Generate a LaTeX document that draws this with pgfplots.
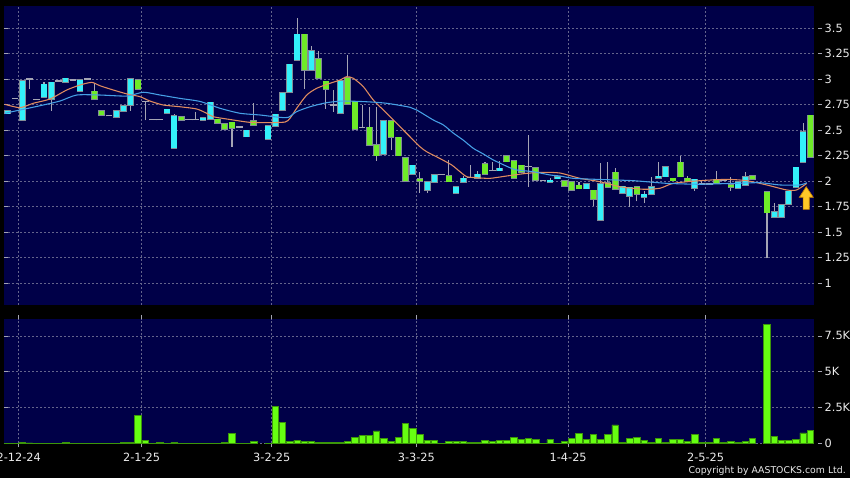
\documentclass[border=0pt]{standalone}
\usepackage{pgfplots}
\usepackage{pgfplotstable}
\pgfplotsset{compat=1.18}
\usepackage{fontspec}
\setmainfont{DejaVu Sans}

\definecolor{navy}{RGB}{0,0,72}
\definecolor{gridc}{RGB}{100,100,140}
\definecolor{upc}{RGB}{51,240,250}
\definecolor{dnc}{RGB}{110,235,40}
\definecolor{edgec}{RGB}{130,140,150}
\definecolor{wickc}{RGB}{165,165,180}
\definecolor{volc}{RGB}{102,255,17}
\definecolor{voledge}{RGB}{60,150,10}
\definecolor{maa}{RGB}{225,140,95}
\definecolor{mab}{RGB}{70,160,230}
\definecolor{arrowc}{RGB}{255,200,40}
\definecolor{arrowe}{RGB}{200,130,0}
\definecolor{labc}{RGB}{235,235,235}

% rising days (cyan): open = body bottom, close = body top
\pgfplotstableread{
x open high low close
-2 2.66 2.69 2.66 2.69
0 2.595 2.99 2.595 2.98
3 2.824 2.97 2.824 2.948
4 2.801 2.968 2.69 2.968
6 2.97 3.007 2.97 3.007
8 2.88 2.99 2.88 2.99
13 2.627 2.69 2.627 2.69
14 2.686 2.738 2.686 2.738
15 2.745 3.0 2.69 3.0
20 2.664 2.703 2.664 2.703
21 2.32 2.66 2.32 2.637
25 2.595 2.618 2.595 2.618
26 2.605 2.77 2.605 2.77
31 2.434 2.497 2.434 2.497
34 2.409 2.539 2.409 2.539
35 2.536 2.654 2.536 2.654
36 2.696 2.866 2.696 2.866
37 2.873 3.144 2.873 3.144
38 3.183 3.595 3.183 3.438
40 3.085 3.32 3.085 3.277
44 2.664 2.983 2.664 2.983
50 2.265 2.588 2.265 2.588
54 2.066 2.154 2.066 2.154
56 1.912 1.993 1.88 1.993
57 1.99 2.059 1.99 2.059
60 1.879 1.944 1.879 1.944
61 1.987 2.05 1.987 2.026
63 2.03 2.10 2.03 2.066
66 2.10 2.20 2.10 2.125
73 1.987 2.03 1.987 2.007
74 2.023 2.042 2.023 2.042
78 1.924 1.973 1.924 1.973
80 1.618 2.18 1.618 1.973
83 1.879 1.948 1.879 1.948
84 1.853 1.938 1.742 1.938
86 1.84 1.90 1.78 1.87
87 1.873 2.036 1.873 1.944
88 2.026 2.19 2.026 2.046
89 2.042 2.14 2.042 2.14
93 1.929 2.016 1.90 2.016
99 1.929 1.99 1.929 1.99
100 1.961 2.09 1.961 2.042
104 1.644 1.78 1.644 1.696
105 1.644 1.765 1.644 1.765
106 1.77 1.90 1.77 1.90
107 1.938 2.134 1.938 2.134
108 2.183 2.566 2.183 2.48
}\upcandles

% falling days (green): open = body top, close = body bottom
\pgfplotstableread{
x open high low close
10 2.88 2.96 2.80 2.80
11 2.69 2.69 2.644 2.644
16 2.99 2.99 2.90 2.90
22 2.63 2.63 2.595 2.595
27 2.605 2.605 2.566 2.566
28 2.559 2.559 2.507 2.507
29 2.575 2.575 2.336 2.517
32 2.588 2.762 2.546 2.546
39 3.438 3.438 2.90 3.085
41 3.20 3.27 3.007 3.007
42 2.977 2.977 2.71 2.90
45 3.013 3.24 2.752 2.752
46 2.78 2.78 2.51 2.51
48 2.527 2.73 2.353 2.353
49 2.356 2.73 2.20 2.248
51 2.588 2.588 2.30 2.428
52 2.428 2.428 2.248 2.248
53 2.228 2.24 2.0 2.0
55 2.02 2.09 1.88 2.00
59 2.052 2.206 1.993 1.993
64 2.167 2.19 2.069 2.069
67 2.245 2.245 2.19 2.19
68 2.2 2.2 2.026 2.026
69 2.154 2.154 2.085 2.085
71 2.13 2.13 2.007 2.007
75 2.0 2.0 1.948 1.948
76 1.993 1.993 1.912 1.912
77 1.957 1.99 1.924 1.924
79 1.909 1.909 1.75 1.82
81 1.983 2.19 1.938 1.938
82 2.085 2.13 1.919 1.919
85 1.941 1.941 1.80 1.87
90 2.026 2.026 2.003 2.003
91 2.183 2.245 2.042 2.042
92 2.026 2.05 1.993 1.993
96 2.016 2.10 1.977 1.977
98 1.964 2.04 1.90 1.938
101 2.052 2.052 2.016 2.016
103 1.895 1.895 1.242 1.689
109 2.644 2.644 2.232 2.232
}\downcandles

% unchanged days (grey dash)
\pgfplotstableread{
x open high low close
-1 2.81 2.81 2.81 2.81
1 3.0 3.0 2.9 3.0
2 2.80 2.80 2.80 2.80
5 2.98 2.98 2.98 2.98
7 2.99 2.99 2.99 2.99
9 3.0 3.0 3.0 3.0
12 2.64 2.64 2.64 2.64
17 2.78 2.78 2.595 2.78
18 2.60 2.60 2.60 2.60
19 2.60 2.60 2.60 2.60
23 2.60 2.60 2.60 2.60
24 2.60 2.68 2.60 2.60
30 2.53 2.53 2.53 2.53
43 2.745 2.89 2.68 2.745
47 2.527 2.75 2.527 2.527
58 2.06 2.06 2.06 2.06
62 2.032 2.157 2.032 2.032
65 2.10 2.19 2.10 2.10
70 2.14 2.45 1.944 2.14
72 2.003 2.003 2.003 2.003
94 1.97 2.0 1.97 1.97
95 1.97 1.97 1.97 1.97
97 2.003 2.003 2.003 2.003
}\flatcandles

\pgfplotstableread{
x ma
-2.43 2.752
-0.32 2.719
1.52 2.762
3.83 2.804
6.14 2.892
7.98 2.941
9.6 2.967
10.75 2.934
12.59 2.892
14.66 2.85
16.28 2.827
17.66 2.784
19.5 2.745
21.81 2.728
24.12 2.706
25.5 2.664
26.42 2.63
29.18 2.598
31.49 2.575
33.8 2.572
36.33 2.578
37.03 2.615
37.95 2.713
39.34 2.843
40.72 2.909
42.56 2.958
43.94 2.99
44.87 3.023
45.78 3.007
47.17 2.925
48.55 2.794
50.4 2.664
52.24 2.532
53.62 2.434
55.0 2.336
55.93 2.287
57.77 2.22
59.39 2.157
60.54 2.091
61.47 2.042
62.85 2.032
64.69 2.026
67.0 2.049
69.77 2.075
72.06 2.085
74.37 2.078
77.14 2.026
79.9 1.993
82.67 1.944
85.89 1.919
88.2 1.929
90.04 1.977
93.73 2.003
97.43 2.016
100.19 2.003
102.96 1.961
105.72 1.912
107.1 1.912
108.5 1.977
}\mashort

\pgfplotstableread{
x ma
-2.43 2.664
-0.32 2.696
2.45 2.738
5.21 2.784
7.52 2.843
10.75 2.843
14.44 2.833
16.74 2.87
19.05 2.843
21.81 2.81
24.58 2.78
27.34 2.713
30.11 2.664
32.88 2.647
35.64 2.624
36.79 2.624
37.95 2.68
39.79 2.728
42.1 2.768
44.4 2.784
47.63 2.777
50.4 2.762
53.62 2.723
54.55 2.696
56.85 2.598
58.23 2.55
59.61 2.47
61.0 2.40
62.38 2.32
63.76 2.265
65.15 2.206
67.45 2.13
68.38 2.108
70.68 2.091
72.99 2.059
74.37 2.049
76.21 2.026
79.9 2.015
84.51 2.003
89.13 1.977
93.73 1.968
98.34 1.977
102.03 1.983
104.8 1.961
107.57 1.961
108.5 1.983
}\malong

% volume in thousands
\pgfplotstableread{
x vol
-2 0.03
-1 0.02
0 0.05
1 0.04
2 0.02
3 0.03
4 0.03
5 0.02
6 0.09
7 0.02
8 0.03
9 0.02
10 0.03
11 0.02
12 0.02
13 0.03
14 0.09
15 0.09
16 1.96
17 0.19
18 0.02
19 0.05
20 0.02
21 0.07
22 0.03
23 0.02
24 0.03
25 0.02
26 0.03
27 0.02
28 0.05
29 0.70
30 0.02
31 0.03
32 0.16
34 0.02
35 2.58
36 1.47
37 0.16
38 0.23
39 0.12
40 0.16
41 0.05
42 0.05
43 0.09
44 0.09
45 0.16
46 0.44
47 0.54
48 0.56
49 0.88
50 0.35
51 0.12
52 0.42
53 1.40
54 1.05
55 0.63
56 0.19
57 0.19
58 0.02
59 0.16
60 0.12
61 0.12
62 0.05
63 0.07
64 0.19
65 0.14
66 0.19
67 0.21
68 0.40
69 0.28
70 0.33
71 0.26
72 0.02
73 0.26
74 0.02
75 0.12
76 0.33
77 0.70
78 0.26
79 0.61
80 0.28
81 0.63
82 1.30
83 0.09
84 0.33
85 0.40
86 0.23
87 0.09
88 0.37
89 0.07
90 0.26
91 0.28
92 0.12
93 0.61
94 0.09
95 0.07
96 0.37
97 0.05
98 0.14
99 0.09
100 0.12
101 0.33
103 8.29
104 0.51
105 0.23
106 0.21
107 0.28
108 0.74
109 0.93
}\volume

\pgfplotsset{
  chartbase/.style={
    scale only axis, width=607.5pt,
    xmin=-2.53, xmax=109.5,
    axis background/.style={fill=navy},
    axis line style={draw=none},
    xtick={-0.5,16.5,34.5,54.5,75.5,94.5},
    grid=major,
    grid style={dash pattern=on 1.5pt off 1.5pt, color=gridc, line width=0.5pt},
    tick align=outside, major tick length=3pt,
    tick style={color=wickc, line width=0.6pt},
    yticklabel pos=right,
    ytick style={xshift=3pt},
    ticklabel style={text=labc, font=\fontsize{8.5}{10}\selectfont},
    yticklabel style={anchor=west, xshift=1.5pt},
    /pgf/number format/assume math mode=true,
    clip=true,
  },
  candlebar/.style={draw=none, mark=none, forget plot,
    error bars/.cd, y dir=plus, y explicit, error mark=none,
    error bar style={line width=#1}},
}

\begin{document}
\begin{tikzpicture}
\path[use as bounding box] (0,0) rectangle (637.5pt,358.5pt);
\clip (0,0) rectangle (637.5pt,358.5pt);
\fill[black] (0,0) rectangle (637.5pt,358.5pt);

% price panel
\begin{axis}[chartbase,
  at={(3pt,129.75pt)}, anchor=south west, height=224.25pt,
  ymin=0.784, ymax=3.716,
  ytick={1,1.25,1.5,1.75,2,2.25,2.5,2.75,3,3.25,3.5},
  xticklabels={}, xtick style={draw=none},
]
% wicks
\addplot[candlebar=0.8pt, error bar style={color=wickc}]
  table[x=x, y=low, y error expr=\thisrow{high}-\thisrow{low}] {\upcandles};
\addplot[candlebar=0.8pt, error bar style={color=wickc}]
  table[x=x, y=low, y error expr=\thisrow{high}-\thisrow{low}] {\downcandles};
\addplot[candlebar=0.8pt, error bar style={color=wickc}]
  table[x=x, y=low, y error expr=\thisrow{high}-\thisrow{low}] {\flatcandles};
% body edges
\addplot[candlebar=5pt, error bar style={color=edgec}]
  table[x=x, y expr=\thisrow{open}-0.006, y error expr=\thisrow{close}-\thisrow{open}+0.012] {\upcandles};
\addplot[candlebar=5pt, error bar style={color=edgec}]
  table[x=x, y expr=\thisrow{close}-0.006, y error expr=\thisrow{open}-\thisrow{close}+0.012] {\downcandles};
\addplot[candlebar=5pt, error bar style={color=wickc}]
  table[x=x, y expr=\thisrow{close}-0.006, y error expr=0.012] {\flatcandles};
% body fills
\addplot[candlebar=4pt, error bar style={color=upc}]
  table[x=x, y=open, y error expr=\thisrow{close}-\thisrow{open}] {\upcandles};
\addplot[candlebar=4pt, error bar style={color=dnc}]
  table[x=x, y=close, y error expr=\thisrow{open}-\thisrow{close}] {\downcandles};
% moving averages
\addplot[maa, line width=0.8pt, smooth, tension=0.4, mark=none] table[x=x, y=ma] {\mashort};
\addplot[mab, line width=0.8pt, smooth, tension=0.4, mark=none] table[x=x, y=ma] {\malong};
% arrow marker
\addplot[fill=arrowc, draw=arrowe, line width=0.5pt, mark=none] coordinates {
  (108.42,1.944) (109.4,1.84) (108.85,1.84) (108.85,1.722)
  (108.0,1.722) (108.0,1.84) (107.47,1.84)} -- cycle;
\end{axis}

% volume panel
\begin{axis}[chartbase,
  at={(3pt,25.875pt)}, anchor=south west, height=93.375pt,
  ymin=0, ymax=8.68,
  ytick={0,2.5,5,7.5}, yticklabels={0,2.5K,5K,7.5K},
  xticklabels={2-12-24,2-1-25,3-2-25,3-3-25,1-4-25,2-5-25},
  xticklabel style={yshift=-1pt},
]
\addplot[ybar, bar width=4.8pt, fill=volc, draw=voledge, line width=0.5pt] table[x=x, y=vol] {\volume};
\end{axis}

\node[anchor=base east, text=labc, font=\fontsize{7}{8}\selectfont, inner sep=0pt]
  at (634.5pt,3pt) {Copyright by AASTOCKS.com Ltd.};
\end{tikzpicture}
\end{document}
